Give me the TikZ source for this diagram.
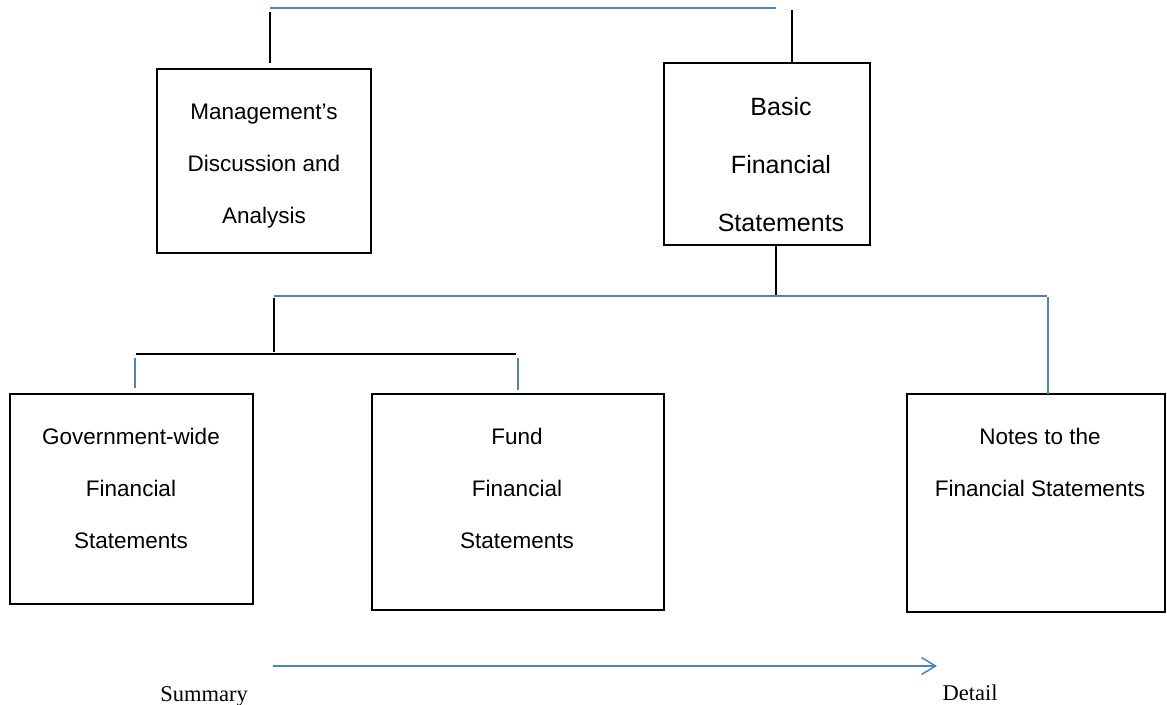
\documentclass[tikz,border=0pt]{standalone}
\usepackage{fontspec}
\setmainfont{Liberation Sans}
\newfontfamily\serifnote{Liberation Serif}
\usetikzlibrary{arrows.meta}
\definecolor{linkblue}{HTML}{4F81BD}
\tikzset{
  box/.style={draw=black, line width=1.8pt, inner sep=0pt, outer sep=0pt},
  bk/.style={draw=black, line width=1.8pt},
  bl/.style={draw=linkblue, line width=1.8pt},
  txt/.style={anchor=base, inner sep=0pt, font=\fontsize{22.5}{27}\selectfont},
  bigtxt/.style={anchor=base, inner sep=0pt, font=\fontsize{25}{30}\selectfont},
  captxt/.style={anchor=base, inner sep=0pt, font=\serifnote\fontsize{22.5}{27}\selectfont},
}
\begin{document}
\begin{tikzpicture}[x=1pt,y=-1pt]
\useasboundingbox (0,0) rectangle (1167,704);
% boxes
\node[box, minimum width=214pt, minimum height=184pt] (mda) at (264,161) {};
\node[box, minimum width=206pt, minimum height=182pt] (bfs) at (767,154) {};
\node[box, minimum width=243pt, minimum height=210pt] (gw) at (131.5,499) {};
\node[box, minimum width=292pt, minimum height=216pt] (fund) at (518,502) {};
\node[box, minimum width=258pt, minimum height=218pt] (notes) at (1036,503) {};
% texts
\node[txt] (mdaA) at (264,119) {Management’s};
\node[txt] (mdaB) at (264,171) {Discussion and};
\node[txt] (mdaC) at (264,223) {Analysis};
\node[bigtxt] (bfsA) at (781,115) {Basic};
\node[bigtxt] (bfsB) at (781,173) {Financial};
\node[bigtxt] (bfsC) at (781,231) {Statements};
\node[txt] (gwA) at (131,444) {Government-wide};
\node[txt] (gwB) at (131,496) {Financial};
\node[txt] (gwC) at (131,548) {Statements};
\node[txt] (fundA) at (517,444) {Fund};
\node[txt] (fundB) at (517,496) {Financial};
\node[txt] (fundC) at (517,548) {Statements};
\node[txt] (notesA) at (1040,444) {Notes to the};
\node[txt] (notesB) at (1040,496) {Financial Statements};
\node[captxt] (summary) at (204,701) {Summary};
\node[captxt] (detail) at (970,700) {Detail};
% top connector
\coordinate (t1) at (270,8);
\coordinate (t2) at (776,8);
\draw[bl] (t1) -- (t2);
\coordinate (m1) at (270,12);
\coordinate (m2) at (270,63);
\draw[bk] (m1) -- (m2);
\coordinate (b1) at (792,10);
\draw[bk] (b1) -- (b1 |- bfs.north);
% lower connectors
\coordinate (j1) at (776,296);
\draw[bk] (j1 |- bfs.south) -- (j1);
\coordinate (j2) at (274,296);
\coordinate (j3) at (1047,296);
\draw[bl] (j2) -- (j3);
\coordinate (j4) at (1048,297);
\draw[bl] (j4) -- (j4 |- notes.north);
\coordinate (k1) at (274,298);
\coordinate (k2) at (274,352);
\draw[bk] (k1) -- (k2);
\coordinate (h1) at (136,354);
\coordinate (h2) at (516,354);
\draw[bk] (h1) -- (h2);
\coordinate (g1) at (135,358);
\coordinate (g2) at (135,388);
\draw[bl] (g1) -- (g2);
\coordinate (f1) at (518,358);
\coordinate (f2) at (518,390);
\draw[bl] (f1) -- (f2);
% summary -> detail arrow
\coordinate (s) at (273,666);
\coordinate (e) at (937,666);
\draw[bl, line width=1.5pt, -{Straight Barb[length=14pt,width=17pt,line width=1.5pt]}] (s) -- (e);
\end{tikzpicture}
\end{document}
